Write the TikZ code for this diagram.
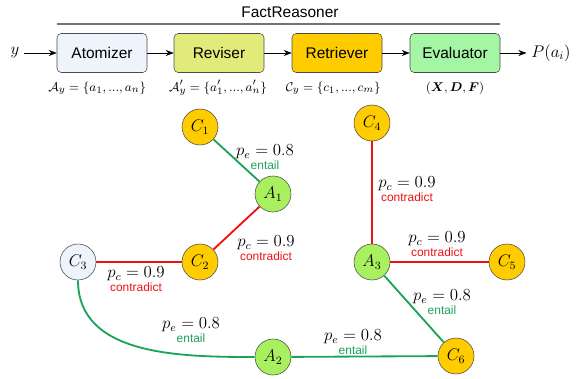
\documentclass[tikz,border=0pt]{standalone}
\usepackage{amsmath,amssymb}
\usepackage{fontspec}
\setsansfont{Liberation Sans}
\usepackage{xcolor}
\usetikzlibrary{arrows.meta,positioning}

\definecolor{atomfill}{HTML}{EEF4FB}
\definecolor{revfill}{HTML}{E2EA7A}
\definecolor{retfill}{HTML}{FFCC00}
\definecolor{evalfill}{HTML}{A4F5A4}
\definecolor{afill}{HTML}{A9F05E}
\definecolor{entgreen}{HTML}{1BA358}
\definecolor{conred}{HTML}{EE1111}

% edge label: value on top, relation word below
\newcommand{\elab}[3]{$#1$\\{\sffamily\fontsize{8.5}{9}\selectfont\color{#3}#2}}
% short ellipsis for the sets under the boxes
\newcommand{\sdots}{{\ldotp\!\ldotp\!\ldotp}}

\begin{document}
\begin{tikzpicture}[
  box/.style={draw=black!70,rounded corners=3pt,minimum width=2.25cm,minimum height=0.975cm,font=\sffamily\fontsize{11}{13}\selectfont},
  cir/.style={circle,draw=black!70,minimum size=0.9cm,inner sep=0pt,font=\fontsize{12}{13}\selectfont},
  ar/.style={-{Stealth[length=2mm]}},
  ent/.style={draw=entgreen,line width=1.3pt},
  con/.style={draw=conred,line width=1.3pt},
  lab/.style={align=center,font=\fontsize{12}{9.5}\selectfont,inner sep=0pt},
  sub/.style={font=\fontsize{9.5}{12}\selectfont,inner sep=0pt}]
\useasboundingbox (0,0) rectangle (14.5,-9.475);

% pipeline
\node[font=\sffamily\fontsize{11}{13}\selectfont] (title) at (7.25,-0.3) {FactReasoner};
\draw[black!55,line width=1pt] (1.425,-0.6) -- (12.5,-0.6);
\node[font=\fontsize{12}{13}\selectfont] (y) at (0.375,-1.325) {$y$};
\node[box,fill=atomfill] (atom) at (2.55,-1.325)  {Atomizer};
\node[box,fill=revfill]  (rev)  at (5.475,-1.325) {Reviser};
\node[box,fill=retfill]  (ret)  at (8.425,-1.325) {Retriever};
\node[box,fill=evalfill] (eval) at (11.375,-1.325){Evaluator};
\node[font=\fontsize{12}{13}\selectfont] (p) at (13.775,-1.325) {$P(a_i)$};
\draw[ar] (y) -- (atom);
\draw[ar] (atom) -- (rev);
\draw[ar] (rev) -- (ret);
\draw[ar] (ret) -- (eval);
\draw[ar] (eval) -- (p);
\node[sub] at (2.43,-2.2)   {$\mathcal{A}_y=\{a_1,\sdots,a_n\}$};
\node[sub] at (5.45,-2.2)   {$\mathcal{A}'_y=\{a'_1,\sdots,a'_n\}$};
\node[sub] at (8.33,-2.2)   {$\mathcal{C}_y=\{c_1,\sdots,c_m\}$};
\node[sub] at (11.375,-2.2) {$(\boldsymbol{X},\boldsymbol{D},\boldsymbol{F})$};

% graph
\node[cir,fill=retfill] (c1) at (5.0,-3.175)  {$C_1$};
\node[cir,fill=afill]   (a1) at (6.825,-4.85) {$A_1$};
\node[cir,fill=retfill] (c2) at (5.0,-6.55)   {$C_2$};
\node[cir,fill=atomfill](c3) at (1.95,-6.55)  {$C_3$};
\node[cir,fill=afill]   (a2) at (6.825,-8.925){$A_2$};
\node[cir,fill=retfill] (c4) at (9.3,-3.075)  {$C_4$};
\node[cir,fill=afill]   (a3) at (9.3,-6.55)   {$A_3$};
\node[cir,fill=retfill] (c5) at (12.675,-6.55){$C_5$};
\node[cir,fill=retfill] (c6) at (11.4,-8.9)   {$C_6$};

\draw[ent] (c1) -- (a1);
\draw[con] (a1) -- (c2);
\draw[con] (c3) -- (c2);
\draw[ent] (c3) to[out=-90,in=180] (a2);
\draw[con] (c4) -- (a3);
\draw[con] (a3) -- (c5);
\draw[ent] (a3) -- (c6);
\draw[ent] (a2) -- (c6);

\node[lab] at (6.625,-3.925) {\elab{p_e=0.8}{entail}{entgreen}};
\node[lab] at (6.65,-6.2)    {\elab{p_c=0.9}{contradict}{conred}};
\node[lab] at (3.4,-6.975)   {\elab{p_c=0.9}{contradict}{conred}};
\node[lab] at (4.775,-8.25)  {\elab{p_e=0.8}{entail}{entgreen}};
\node[lab] at (10.175,-4.725){\elab{p_c=0.9}{contradict}{conred}};
\node[lab] at (10.925,-6.1)  {\elab{p_c=0.9}{contradict}{conred}};
\node[lab] at (11.05,-7.55)  {\elab{p_e=0.8}{entail}{entgreen}};
\node[lab] at (8.825,-8.55)  {\elab{p_e=0.8}{entail}{entgreen}};
\end{tikzpicture}
\end{document}
